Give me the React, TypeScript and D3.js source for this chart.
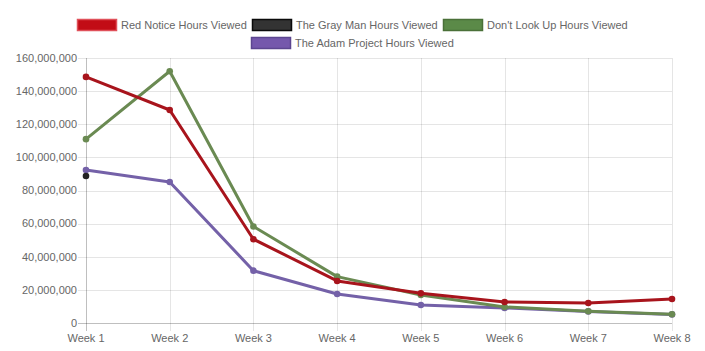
import React, { useMemo } from "react";
import * as d3 from "d3";

const weeks = ["Week 1", "Week 2", "Week 3", "Week 4", "Week 5", "Week 6", "Week 7", "Week 8"];
const redNotice = [148.6, 128.6, 50.6, 25.4, 17.9, 12.7, 12.1, 14.5];
const grayMan: (number | null)[] = [88.8, null, null, null, null, null, null, null];
const dontLookUp = [111.0, 152.0, 58.3, 28.0, 16.9, 9.7, 7.1, 5.3];
const adamProject = [92.4, 85.1, 31.6, 17.5, 10.9, 9.1, 7.0, 5.2];
const yTicks = [0, 20, 40, 60, 80, 100, 120, 140, 160];

const series = [
  { name: "Red Notice Hours Viewed", values: redNotice, line: "#a8141c", fill: "#c20c16", border: "#e0505a" },
  { name: "The Gray Man Hours Viewed", values: grayMan, line: "#222222", fill: "#333333", border: "#0a0a0a" },
  { name: "Don't Look Up Hours Viewed", values: dontLookUp, line: "#6a8a52", fill: "#5b8a48", border: "#4a7038" },
  { name: "The Adam Project Hours Viewed", values: adamProject, line: "#7461a8", fill: "#7558ac", border: "#5c4690" },
];

const W = 705;
const H = 351;
const FONT = "Arial, 'Liberation Sans', Helvetica, sans-serif";
const FS = 11;

function measure(text: string, size: number) {
  if (typeof document === "undefined") return text.length * size * 0.5;
  const c = document.createElement("canvas");
  const ctx = c.getContext("2d")!;
  ctx.font = `${size}px ${FONT}`;
  return ctx.measureText(text).width;
}

export default function App() {
  const left = 86;
  const right = 672;
  const top = 58;
  const bottom = 323;

  const x = d3.scalePoint<string>().domain(weeks).range([left, right]);
  const y = d3.scaleLinear().domain([0, 160]).range([bottom, top]);

  const legend = useMemo(() => {
    const boxW = 40;
    const pad = 5;
    const items = series.map((s) => ({ s, w: boxW + 4 + measure(s.name, FS) }));
    const maxW = 620;
    const rows: { s: any; w: number }[][] = [[]];
    let cur = 0;
    items.forEach((it) => {
      if (cur + it.w + pad > maxW && rows[rows.length - 1].length) {
        rows.push([]);
        cur = 0;
      }
      rows[rows.length - 1].push(it);
      cur += it.w + pad;
    });
    const out: { s: any; x: number; y: number }[] = [];
    rows.forEach((r, ri) => {
      const total = r.reduce((a, b) => a + b.w, 0) + pad * (r.length - 1);
      let cx = (W - total) / 2;
      r.forEach((it) => {
        out.push({ s: it.s, x: cx, y: 19 + ri * 18 });
        cx += it.w + pad;
      });
    });
    return out;
  }, []);

  const lineGen = d3
    .line<number | null>()
    .defined((d) => d !== null)
    .x((_, i) => x(weeks[i])!)
    .y((d) => y(d as number));

  const fmt = d3.format(",");

  return (
    <svg width={W} height={H} style={{ position: "fixed", left: 0, top: 0, background: "#fff" }} fontFamily={FONT}>
      <rect width={W} height={H} fill="#fff" />
      {legend.map((l, i) => (
        <g key={i}>
          <rect x={Math.round(l.x) + 0.5} y={l.y + 0.5} width={39} height={11} fill={l.s.fill} stroke={l.s.border} strokeWidth={1.5} />
          <text x={Math.round(l.x) + 44} y={l.y + 6} dy="0.35em" fontSize={FS} fill="#666">
            {l.s.name}
          </text>
        </g>
      ))}
      {yTicks.map((t) => (
        <g key={t}>
          <line x1={left - 8} x2={right} y1={Math.round(y(t)) + 0.5} y2={Math.round(y(t)) + 0.5} stroke={t === 0 ? "rgba(0,0,0,0.25)" : "rgba(0,0,0,0.1)"} />
          <text x={left - 9} y={y(t)} dy="0.35em" textAnchor="end" fontSize={FS} fill="#666">
            {fmt(t * 1000000)}
          </text>
        </g>
      ))}
      {weeks.map((w, i) => (
        <g key={w}>
          <line x1={Math.round(x(w)!) + 0.5} x2={Math.round(x(w)!) + 0.5} y1={top} y2={bottom + 8} stroke={i === 0 ? "rgba(0,0,0,0.25)" : "rgba(0,0,0,0.1)"} />
          <text x={x(w)} y={bottom + 15} dy="0.35em" textAnchor="middle" fontSize={FS} fill="#666">
            {w}
          </text>
        </g>
      ))}
      {[...series].reverse().map((s) => (
        <g key={s.name}>
          <path d={lineGen(s.values) || ""} fill="none" stroke={s.line} strokeWidth={3} strokeLinejoin="round" />
          {s.values.map((v, i) =>
            v === null ? null : <circle key={i} cx={x(weeks[i])} cy={y(v)} r={3.3} fill={s.line} />
          )}
        </g>
      ))}
    </svg>
  );
}
